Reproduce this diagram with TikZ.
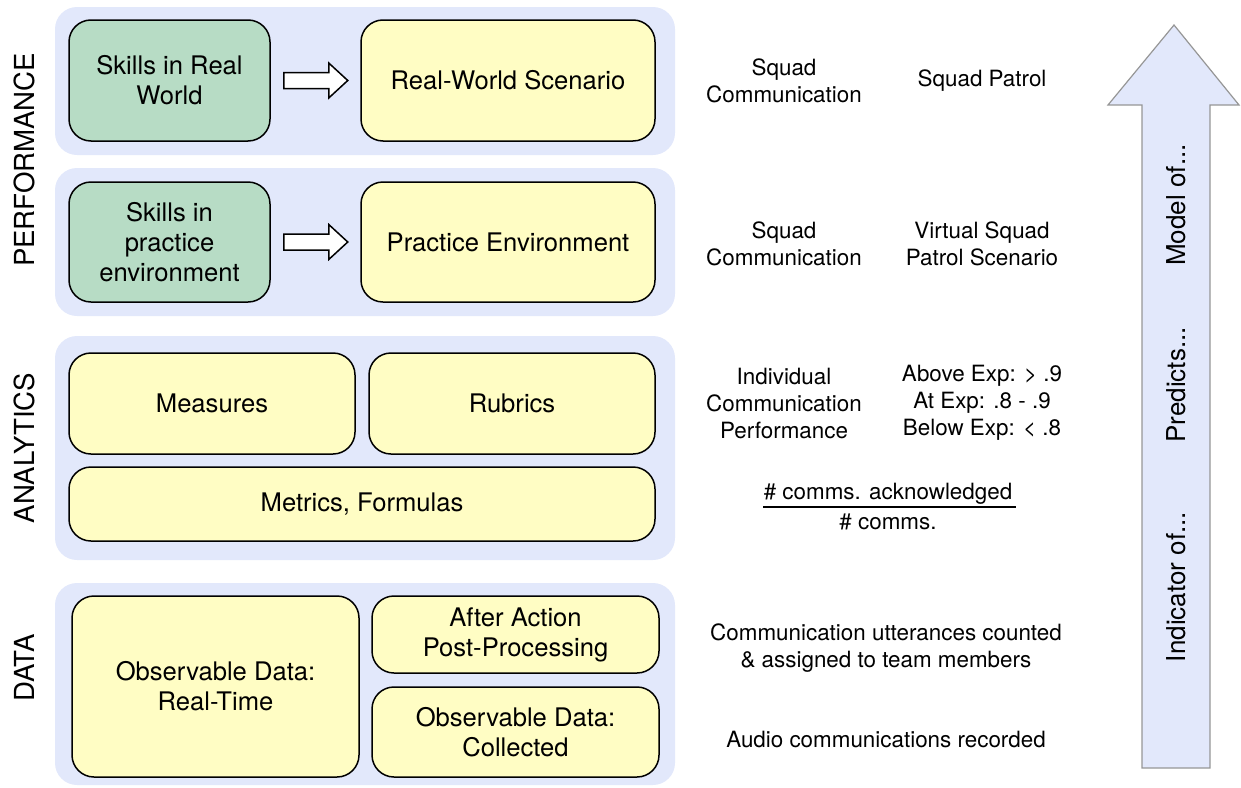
\documentclass[tikz,border=0pt]{standalone}
\usepackage{fontspec}
\setmainfont{TeX Gyre Heros}
\usetikzlibrary{calc}

\definecolor{layerblue}{RGB}{226,232,251}
\definecolor{skillgreen}{RGB}{183,220,197}
\definecolor{stageyellow}{RGB}{255,253,196}
\definecolor{arrowgray}{RGB}{150,150,150}

\tikzset{
  layer/.style={fill=layerblue, rounded corners=11pt, inner sep=0pt},
  stage/.style={draw=black, line width=0.75pt, rounded corners=11pt, align=center, inner sep=0pt, font=\fontsize{12.8}{15}\selectfont},
  skill/.style={stage, fill=skillgreen},
  env/.style={stage, fill=stageyellow},
  level/.style={rotate=90, font=\fontsize{13.8}{16}\selectfont},
  note/.style={align=center, font=\fontsize{11.2}{13.5}\selectfont},
  flowarrow/.style={draw=black, fill=white, line width=0.75pt},
  bigarrow/.style={draw=arrowgray, fill=layerblue, line width=0.6pt},
  chain/.style={rotate=90, font=\fontsize{13}{15}\selectfont},
}

\begin{document}
\begin{tikzpicture}[x=0.5pt, y=-0.5pt]
		\useasboundingbox (0,0) rectangle (1241,787);
		% Layers:
		\node[layer, minimum width=310pt, minimum height=74pt](L1) at (365, 81){};
		\node[layer, minimum width=310pt, minimum height=74pt](L2) at (365, 242){};
		\node[layer, minimum width=310pt, minimum height=112pt](L3) at (365, 448){};
		\node[layer, minimum width=310pt, minimum height=101pt](L4) at (365, 684){};
		\node[level](perf) at (24, 160){PERFORMANCE};
		\node[level](anal) at (24, 448){ANALYTICS};
		\node[level](data) at (24, 668){DATA};
		% Performance boxes:
		\node[skill, minimum width=100.5pt, minimum height=60.5pt](skR) at (169.5, 80.5){Skills in Real\\World};
		\node[env, minimum width=147pt, minimum height=60.5pt](rws) at (508, 80.5){Real-World Scenario};
		\node[skill, minimum width=100.5pt, minimum height=60pt](skP) at (169.5, 242){Skills in\\practice\\environment};
		\node[env, minimum width=147pt, minimum height=60pt](pe) at (508, 242){Practice Environment};
		\foreach \s in {skR, skP}
			\draw[flowarrow] ($(\s.east)+(13,-8)$) -- ++(45,0) -- ++(0,-9.5) -- ++(19,17.5) -- ++(-19,17.5) -- ++(0,-9.5) -- ++(-45,0) -- cycle;
		% Analytics boxes:
		\node[env, minimum width=143pt, minimum height=50.5pt](meas) at (212, 403.5){Measures};
		\node[env, minimum width=143pt, minimum height=50.5pt](rub) at (512, 403.5){Rubrics};
		\node[env, minimum width=293pt, minimum height=37pt](met) at (362, 504){Metrics, Formulas};
		% Data boxes:
		\node[env, minimum width=143.5pt, minimum height=90.5pt](odrt) at (215.5, 686.5){Observable Data:\\Real-Time};
		\node[env, minimum width=143.5pt, minimum height=38.5pt](aap) at (515.5, 634.5){After Action\\Post-Processing};
		\node[env, minimum width=143.5pt, minimum height=45pt](odc) at (515.5, 732){Observable Data:\\Collected};
		% Examples column:
		\node[note](n1a) at (784, 81){Squad\\Communication};
		\node[note](n1b) at (982, 81){Squad Patrol};
		\node[note](n2a) at (784, 244){Squad\\Communication};
		\node[note](n2b) at (982, 244){Virtual Squad\\Patrol Scenario};
		\node[note](n3a) at (784, 403){Individual\\Communication\\Performance};
		\node[note](n3b) at (982, 403){Above Exp: > .9\\At Exp: .8 - .9\\Below Exp: < .8};
		\node[note, inner sep=0pt, anchor=base](num) at (888, 499){\# comms. acknowledged};
		\node[note, inner sep=0pt, anchor=base](den) at (888, 529){\# comms.};
		\draw[line width=0.8pt] ($(num.base west)+(0,8)$) -- ($(num.base east)+(3,8)$);
		\node[note](n4) at (886, 648){Communication utterances counted\\\& assigned to team members};
		\node[note](n5) at (886, 739){Audio communications recorded};
		% Inference arrow:
		\draw[bigarrow] (1142,768) -- (1142,105) -- (1108,105) -- (1174,25) -- (1239,105) -- (1210,105) -- (1210,768) -- cycle;
		\node[chain](mod) at (1176, 205){Model of...};
		\node[chain](pred) at (1176, 385){Predicts...};
		\node[chain](ind) at (1176, 587){Indicator of...};
	\end{tikzpicture}
\end{document}
